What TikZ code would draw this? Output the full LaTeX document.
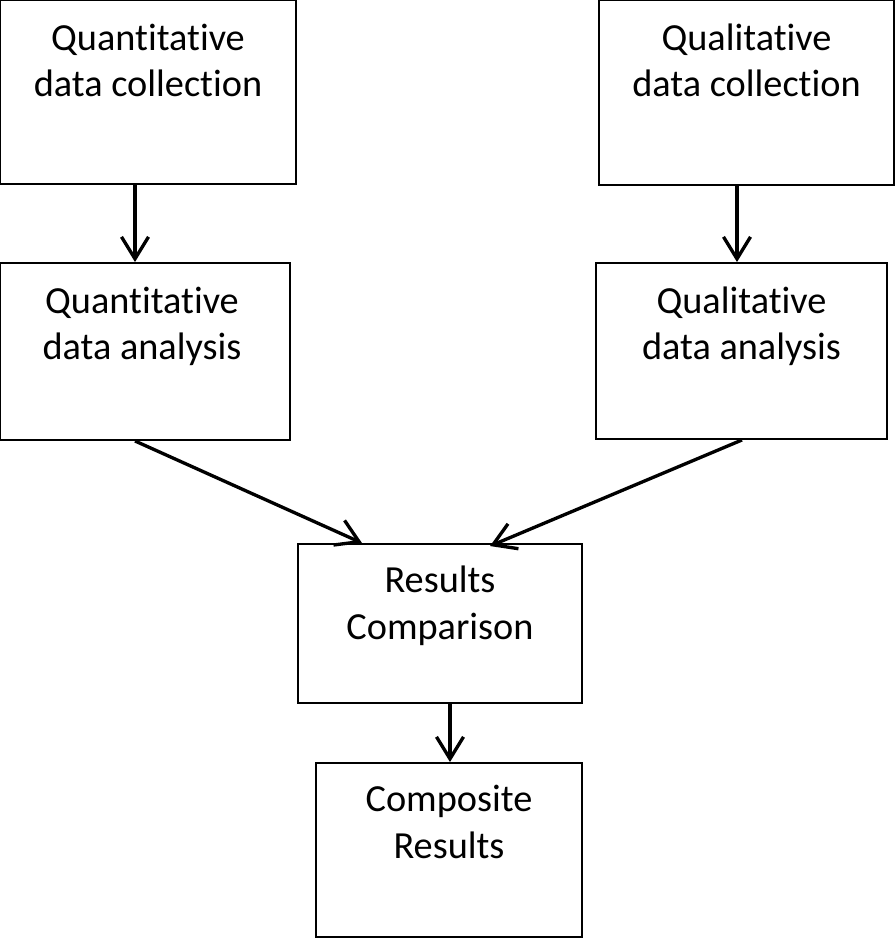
\documentclass[tikz,border=0pt]{standalone}
\usepackage{fontspec}
\setmainfont{Carlito}[Ligatures=NoCommon]
\usepackage{tikz}
\usetikzlibrary{arrows.meta,calc,positioning}

\begin{document}
\begin{tikzpicture}[box/.style={draw, line width=1.1pt, inner sep=0pt},
  txt/.style={anchor=base, inner sep=0pt, font=\fontsize{21.8pt}{26.6pt}\selectfont},
  arr/.style={line width=1.9pt, -{Straight Barb[length=0.44cm, width=0.54cm, line width=1.9pt]}}]
\useasboundingbox (0,0) rectangle (17.92,-18.78);
% boxes
\node[box, minimum width=5.92cm, minimum height=3.68cm] (qnc) at (2.96,-1.84) {};
\node[box, minimum width=5.90cm, minimum height=3.70cm] (qlc) at (14.93,-1.85) {};
\node[box, minimum width=5.80cm, minimum height=3.54cm] (qna) at (2.90,-7.03) {};
\node[box, minimum width=5.82cm, minimum height=3.52cm] (qla) at (14.83,-7.02) {};
\node[box, minimum width=5.68cm, minimum height=3.18cm] (rc) at (8.80,-12.47) {};
\node[box, minimum width=5.32cm, minimum height=3.48cm] (cr) at (8.98,-17.00) {};
% texts
\node[txt] (qnct) at ($(qnc.north)+(0,-1.02)$) {\parbox[t]{5.6cm}{\centering Quantitative\\data collection}};
\node[txt] (qlct) at ($(qlc.north)+(0,-1.02)$) {\parbox[t]{5.6cm}{\centering Qualitative\\data collection}};
\node[txt] (qnat) at ($(qna.north)+(-0.06,-1.02)$) {\parbox[t]{5.6cm}{\centering Quantitative\\data analysis}};
\node[txt] (qlat) at ($(qla.north)+(0,-1.02)$) {\parbox[t]{5.6cm}{\centering Qualitative\\data analysis}};
\node[txt] (rct) at ($(rc.north)+(0,-0.99)$) {\parbox[t]{5.4cm}{\centering Results\\Comparison}};
\node[txt] (crt) at ($(cr.north)+(0,-0.99)$) {\parbox[t]{5.0cm}{\centering Composite\\Results}};
% arrows
\coordinate (a1) at ($(qnc.south)+(-0.26,0)$);
\draw[arr] (a1) -- (a1 |- qna.north);
\coordinate (a2) at ($(qlc.south)+(-0.19,0)$);
\draw[arr] (a2) -- (a2 |- qla.north);
\draw[arr] ($(qna.south)+(-0.20,0)$) -- ($(rc.north)+(-1.56,0)$);
\draw[arr] ($(qla.south)+(0.01,0)$) -- ($(rc.north)+(1.0,-0.06)$);
\coordinate (a5) at ($(rc.south)+(0.20,0)$);
\draw[arr] (a5) -- (a5 |- cr.north);
\end{tikzpicture}
\end{document}
